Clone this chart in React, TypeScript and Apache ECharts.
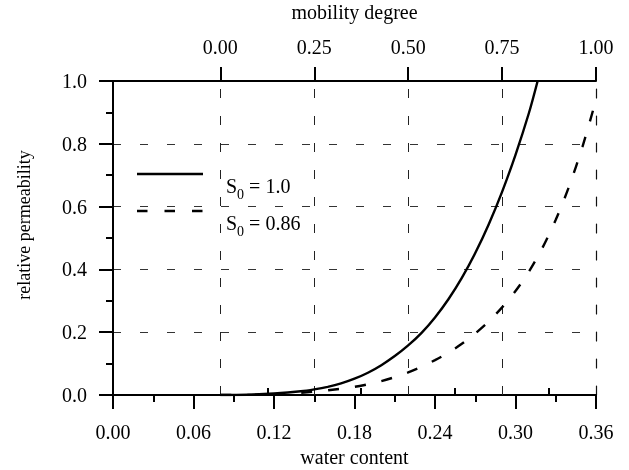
import React, { useEffect, useRef } from "react";
import * as echarts from "echarts";

const FONT = "'Liberation Serif', 'Times New Roman', serif";

// water content (x) vs relative permeability (y)
const solidW = [0.08, 0.1, 0.12, 0.14, 0.15, 0.16, 0.17, 0.18, 0.19, 0.2, 0.21, 0.22, 0.23, 0.24, 0.25, 0.26, 0.27, 0.28, 0.29, 0.3, 0.31, 0.3165];
const solidKr = [0, 0.001, 0.005, 0.012, 0.018, 0.026, 0.037, 0.052, 0.071, 0.095, 0.124, 0.158, 0.198, 0.247, 0.305, 0.373, 0.452, 0.543, 0.647, 0.765, 0.898, 1.0];

const dashW = [0.08, 0.1, 0.12, 0.14, 0.16, 0.18, 0.19, 0.2, 0.21, 0.22, 0.23, 0.24, 0.25, 0.26, 0.27, 0.28, 0.29, 0.3, 0.31, 0.32, 0.33, 0.34, 0.35, 0.36];
const dashKr = [0, 0.0005, 0.002, 0.007, 0.015, 0.026, 0.034, 0.044, 0.057, 0.072, 0.09, 0.111, 0.135, 0.163, 0.196, 0.234, 0.279, 0.331, 0.393, 0.468, 0.558, 0.665, 0.792, 0.94];

const seriesNames = ["S0 = 1.0", "S0 = 0.86"];
const legendLabels = ["1.0", "0.86"];

// mobility degree axis: mobility = (w - wStart) / wSpan
const mobilityStart = 0.08;
const mobilitySpan = 0.28;
const mobilityTicks = [0, 0.25, 0.5, 0.75, 1.0];
const mobilityMinorTicks = [0.125, 0.375, 0.625, 0.875];

const axisColor = "#000";
const round6 = (v: number) => Math.round(v * 1e6) / 1e6;

export default function App() {
  const ref = useRef<HTMLDivElement>(null);
  useEffect(() => {
    if (!ref.current) return;
    const chart = echarts.init(ref.current, null, { renderer: "svg" });
    const topMajor = mobilityTicks.map((m) => round6(mobilityStart + m * mobilitySpan));
    const topMinor = mobilityMinorTicks.map((m) => round6(mobilityStart + m * mobilitySpan));
    const lineStyle = { color: axisColor, width: 2 };
    const gridDash = { type: [9, 18], color: "#222", width: 1 };
    const labelStyle = { fontFamily: FONT, fontSize: 20, color: "#000" };
    const richLegend = {
      a: { fontFamily: FONT, fontSize: 20, color: "#000", verticalAlign: "bottom", padding: [0, 0, 5, 0] },
      b: { fontFamily: FONT, fontSize: 14, color: "#000", verticalAlign: "bottom" },
    };
    chart.setOption({
      animation: false,
      grid: { left: 113, right: 33, top: 81, bottom: 75, outerBoundsMode: "none" },
      xAxis: [
        {
          type: "value",
          position: "bottom",
          min: 0,
          max: 0.36,
          interval: 0.06,
          axisLine: { show: true, onZero: false, lineStyle },
          axisTick: { show: true, length: 14, lineStyle },
          minorTick: { show: true, splitNumber: 2, length: 7, lineStyle },
          axisLabel: { ...labelStyle, margin: 27, formatter: (v: number) => v.toFixed(2) },
          splitLine: { show: false },
          name: "water content",
          nameLocation: "middle",
          nameGap: 49,
          nameTextStyle: labelStyle,
        },
        {
          type: "value",
          position: "top",
          min: 0,
          max: 0.36,
          axisLine: { show: true, onZero: false, lineStyle },
          axisTick: { show: true, length: 14, lineStyle, customValues: topMajor },
          axisLabel: {
            ...labelStyle,
            margin: 24,
            customValues: topMajor,
            showMaxLabel: true,
            formatter: (v: number) => ((v - mobilityStart) / mobilitySpan).toFixed(2),
          },
          splitLine: { show: false },
          name: "mobility degree",
          nameLocation: "middle",
          nameGap: 59,
          nameTextStyle: labelStyle,
        },
        {
          type: "value",
          position: "top",
          min: 0,
          max: 0.36,
          axisLine: { show: false },
          axisTick: { show: true, length: 7, lineStyle, customValues: topMinor },
          axisLabel: { show: false },
          splitLine: { show: false },
        },
      ],
      yAxis: [
        {
          type: "value",
          min: 0,
          max: 1,
          interval: 0.2,
          axisLine: { show: true, onZero: false, lineStyle },
          axisTick: { show: true, length: 14, lineStyle },
          minorTick: { show: true, splitNumber: 2, length: 7, lineStyle },
          axisLabel: { ...labelStyle, margin: 26, formatter: (v: number) => v.toFixed(1) },
          splitLine: { show: true, lineStyle: { type: [8, 19], color: "#333", width: 1 } },
        },
        {
          type: "value",
          position: "right",
          min: 0,
          max: 1,
          interval: 0.2,
          axisLine: { show: true, onZero: false, lineStyle: { type: [9, 18], color: "#111", width: 1.2 } },
          axisTick: { show: false },
          axisLabel: { show: false },
          splitLine: { show: false },
        },
      ],
      series: [
        {
          name: seriesNames[0],
          type: "line",
          xAxisIndex: 0,
          yAxisIndex: 0,
          data: solidW.map((w, i) => [w, solidKr[i]]),
          showSymbol: false,
          smooth: 0.3,
          lineStyle: { color: "#000", width: 2.4 },
          z: 5,
          markLine: {
            silent: true,
            symbol: "none",
            label: { show: false },
            lineStyle: gridDash,
            data: topMajor.slice(0, -1).map((x) => ({ xAxis: x })),
            z: 1,
          },
        },
        {
          name: seriesNames[1],
          type: "line",
          xAxisIndex: 0,
          yAxisIndex: 0,
          data: dashW.map((w, i) => [w, dashKr[i]]),
          showSymbol: false,
          smooth: 0.3,
          lineStyle: { color: "#000", width: 2.4, type: [11, 16] },
          z: 5,
        },
      ],
      graphic: [
        {
          type: "text",
          x: 24,
          y: 225,
          rotation: Math.PI / 2,
          style: { text: "relative permeability", fontFamily: FONT, fontSize: 18, fill: "#000", textAlign: "center", textVerticalAlign: "middle" },
        },
        {
          type: "line",
          shape: { x1: 137, y1: 174, x2: 203, y2: 174 },
          style: { stroke: "#000", lineWidth: 2.4 },
        },
        {
          type: "line",
          shape: { x1: 137, y1: 211, x2: 203, y2: 211 },
          style: { stroke: "#000", lineWidth: 2.4, lineDash: [10.5, 17] },
        },
        {
          type: "text",
          x: 226,
          y: 176,
          style: { text: `{a|S}{b|0}{a| = ${legendLabels[0]}}`, rich: richLegend, textVerticalAlign: "top" },
        },
        {
          type: "text",
          x: 226,
          y: 213,
          style: { text: `{a|S}{b|0}{a| = ${legendLabels[1]}}`, rich: richLegend, textVerticalAlign: "top" },
        },
      ],
    });
    return () => chart.dispose();
  }, []);
  return <div ref={ref} style={{ position: "fixed", left: 0, top: 0, width: 629, height: 470 }} />;
}
